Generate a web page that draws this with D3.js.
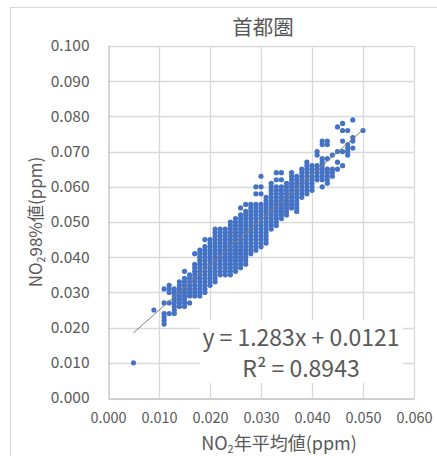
<!DOCTYPE html>
<html>
<head>
<meta charset="utf-8">
<script src="https://cdn.jsdelivr.net/npm/d3@7"></script>
<style>
  html, body { margin: 0; padding: 0; background: #fff; }
  svg { display: block; font-family: "Noto Sans CJK JP", "Noto Sans", sans-serif; }
</style>
</head>
<body>
<svg id="chart"></svg>
<script>
const chartTitle = "首都圏";
const xTicks = [0, 0.01, 0.02, 0.03, 0.04, 0.05, 0.06];
const yTicks = [0, 0.01, 0.02, 0.03, 0.04, 0.05, 0.06, 0.07, 0.08, 0.09, 0.1];

// annual mean NO2, in 1/1000 ppm (one column of stations per value)
const xMilli = [5, 9, 11, 12, 13, 14, 15, 16, 17, 18, 19, 20, 21, 22, 23, 24, 25, 26, 27, 28,
  29, 30, 31, 32, 33, 34, 35, 36, 37, 38, 39, 40, 41, 42, 43, 44, 45, 46, 47, 48, 50];

// 98th percentile NO2 for each column above, in 1/1000 ppm
const yMilli = [
  [10],
  [25],
  [21, 22, 23, 24, 27, 31],
  [24, 27, 30, 31, 32],
  [24, 25, 26, 27, 28, 29, 30, 31],
  [26, 27, 28, 29, 30, 31, 32, 33],
  [26, 27, 28, 29, 30, 31, 32, 33, 34, 36],
  [27, 29, 30, 31, 32, 33, 34, 35],
  [29, 30, 31, 32, 33, 34, 35, 36, 37, 38, 41],
  [29, 30, 31, 32, 33, 34, 35, 36, 37, 38, 39, 40, 41, 42],
  [30, 31, 32, 33, 34, 35, 36, 37, 38, 39, 40, 41, 42, 43, 45],
  [32, 33, 34, 35, 36, 37, 38, 39, 40, 41, 42, 43, 44, 45],
  [33, 34, 35, 36, 37, 38, 39, 40, 41, 42, 43, 44, 45, 46, 47, 48],
  [35, 36, 37, 38, 39, 40, 41, 42, 43, 44, 45, 46, 47, 48],
  [35, 36, 37, 38, 39, 40, 41, 42, 43, 44, 45, 46, 47, 48],
  [35, 36, 37, 38, 39, 40, 41, 42, 43, 44, 45, 46, 47, 48, 49, 50],
  [36, 37, 38, 39, 40, 41, 42, 43, 44, 45, 46, 47, 48, 49, 50, 51],
  [37, 38, 39, 40, 41, 42, 43, 44, 45, 46, 47, 48, 49, 50, 51, 52, 54],
  [38, 39, 40, 41, 42, 43, 44, 45, 46, 47, 48, 49, 50, 51, 52, 53, 55],
  [41, 42, 43, 44, 45, 46, 47, 48, 49, 50, 51, 52, 53, 54, 55],
  [42, 43, 44, 45, 46, 47, 48, 49, 50, 51, 52, 53, 54, 55, 58, 60],
  [43, 44, 45, 46, 47, 48, 49, 50, 51, 52, 53, 54, 55, 58, 60, 63],
  [44, 45, 46, 47, 48, 49, 50, 51, 52, 53, 54, 55, 56, 57],
  [48, 49, 50, 51, 52, 53, 54, 55, 56, 57, 58, 59, 60, 61],
  [49, 50, 51, 52, 53, 54, 55, 56, 57, 58, 59, 60, 62, 64],
  [51, 52, 53, 54, 55, 56, 57, 58, 59, 60, 62, 64],
  [52, 53, 54, 55, 56, 57, 58, 59, 60, 61],
  [54, 55, 56, 57, 58, 59, 60, 61, 62, 63, 64],
  [53, 54, 55, 56, 57, 58, 59, 60, 61, 62, 63],
  [57, 58, 59, 60, 61, 62, 63, 64, 65],
  [58, 59, 60, 61, 62, 63, 64, 65, 66, 67],
  [59, 60, 61, 62, 63, 64, 65, 66],
  [62, 63, 64, 65, 66, 69, 70],
  [60, 62, 63, 64, 65, 66, 67, 68, 72, 73],
  [61, 62, 63, 64, 65, 68, 72, 73],
  [63, 64, 65, 69],
  [65, 67, 70, 77],
  [66, 70, 73, 76, 78],
  [69, 70, 71, 72, 76],
  [71, 73, 74, 79],
  [76]
];

// linear trendline shown on the chart
const trendSlope = 1.283;
const trendIntercept = 0.0121;
const trendR2 = 0.8943;
const trendFrom = 0.005;
const trendTo = 0.05;

const width = 437, height = 456;
const margin = { top: 46, right: 23, bottom: 58, left: 108 };

const points = xMilli.flatMap((xm, i) => yMilli[i].map(ym => ({ x: xm / 1000, y: ym / 1000 })));

const x = d3.scaleLinear()
  .domain([0, 0.06])
  .range([margin.left, width - margin.right]);

const y = d3.scaleLinear()
  .domain([0, 0.1])
  .range([height - margin.bottom, margin.top]);

const svg = d3.select("#chart")
  .attr("width", width)
  .attr("height", height)
  .attr("viewBox", [0, 0, width, height]);

// chart frame
svg.append("rect")
  .attr("x", 10.5).attr("y", 7.5)
  .attr("width", width).attr("height", height)
  .attr("fill", "#fff").attr("stroke", "#d9d9d9");

svg.append("text")
  .attr("x", 263).attr("y", 35)
  .attr("text-anchor", "middle")
  .attr("font-size", 20.5)
  .attr("fill", "#595959")
  .text(chartTitle);

// grid
const grid = svg.append("g").attr("stroke", "#d9d9d9").attr("stroke-width", 1.3);
grid.selectAll(".gx").data(xTicks.slice(1)).join("line")
  .attr("x1", d => Math.round(x(d)) + 0.5).attr("x2", d => Math.round(x(d)) + 0.5)
  .attr("y1", y(0.1)).attr("y2", y(0));
grid.selectAll(".gy").data(yTicks.slice(1)).join("line")
  .attr("x1", x(0)).attr("x2", x(0.06))
  .attr("y1", d => Math.round(y(d)) + 0.5).attr("y2", d => Math.round(y(d)) + 0.5);

// axes
const xAxis = g => g
  .attr("transform", `translate(0,${Math.round(y(0)) + 0.5})`)
  .call(d3.axisBottom(x).tickValues(xTicks).tickFormat(d3.format(".3f")).tickSize(0).tickPadding(14))
  .call(g => g.select(".domain").attr("stroke", "#bfbfbf").attr("stroke-width", 1.3))
  .call(g => g.selectAll("text").attr("fill", "#595959").attr("font-size", 14.5));

const yAxis = g => g
  .attr("transform", `translate(${Math.round(x(0)) + 0.5},0)`)
  .call(d3.axisLeft(y).tickValues(yTicks).tickFormat(d3.format(".3f")).tickSize(0).tickPadding(19))
  .call(g => g.select(".domain").attr("stroke", "#bfbfbf").attr("stroke-width", 1.3))
  .call(g => g.selectAll("text").attr("fill", "#595959").attr("font-size", 15.5));

svg.append("g").call(xAxis).attr("font-family", null);
svg.append("g").call(yAxis).attr("font-family", null);

// points
svg.append("g")
  .attr("fill", "#4472c4")
  .selectAll("circle")
  .data(points)
  .join("circle")
  .attr("cx", d => x(d.x))
  .attr("cy", d => y(d.y))
  .attr("r", 2.6);

// trendline
svg.append("line")
  .attr("x1", x(trendFrom)).attr("y1", y(trendSlope * trendFrom + trendIntercept))
  .attr("x2", x(trendTo)).attr("y2", y(trendSlope * trendTo + trendIntercept))
  .attr("stroke", "#7f7f7f").attr("stroke-width", 1);

// equation label
svg.append("rect")
  .attr("x", 200).attr("y", 320).attr("width", 203).attr("height", 63)
  .attr("fill", "#fff");
const eq = svg.append("text")
  .attr("text-anchor", "middle")
  .attr("fill", "#595959")
  .attr("font-size", 23);
eq.append("tspan").attr("x", 301).attr("y", 346)
  .text(`y = ${trendSlope}x + ${trendIntercept}`);
eq.append("tspan").attr("x", 301).attr("y", 377)
  .text(`R² = ${trendR2}`);

// axis titles
svg.append("text")
  .attr("x", 279).attr("y", 450)
  .attr("text-anchor", "middle")
  .attr("fill", "#595959")
  .attr("font-size", 18)
  .call(t => t.append("tspan").text("NO"))
  .call(t => t.append("tspan").attr("font-size", 11).attr("dy", 3).text("2"))
  .call(t => t.append("tspan").attr("dy", -3).text("年平均値(ppm)"));

svg.append("text")
  .attr("transform", `translate(42,${(y(0) + y(0.1)) / 2}) rotate(-90)`)
  .attr("text-anchor", "middle")
  .attr("fill", "#595959")
  .attr("font-size", 17)
  .call(t => t.append("tspan").text("NO"))
  .call(t => t.append("tspan").attr("font-size", 10.5).attr("dy", 3).text("2"))
  .call(t => t.append("tspan").attr("dy", -3).text("98%値(ppm)"));
</script>
</body>
</html>
